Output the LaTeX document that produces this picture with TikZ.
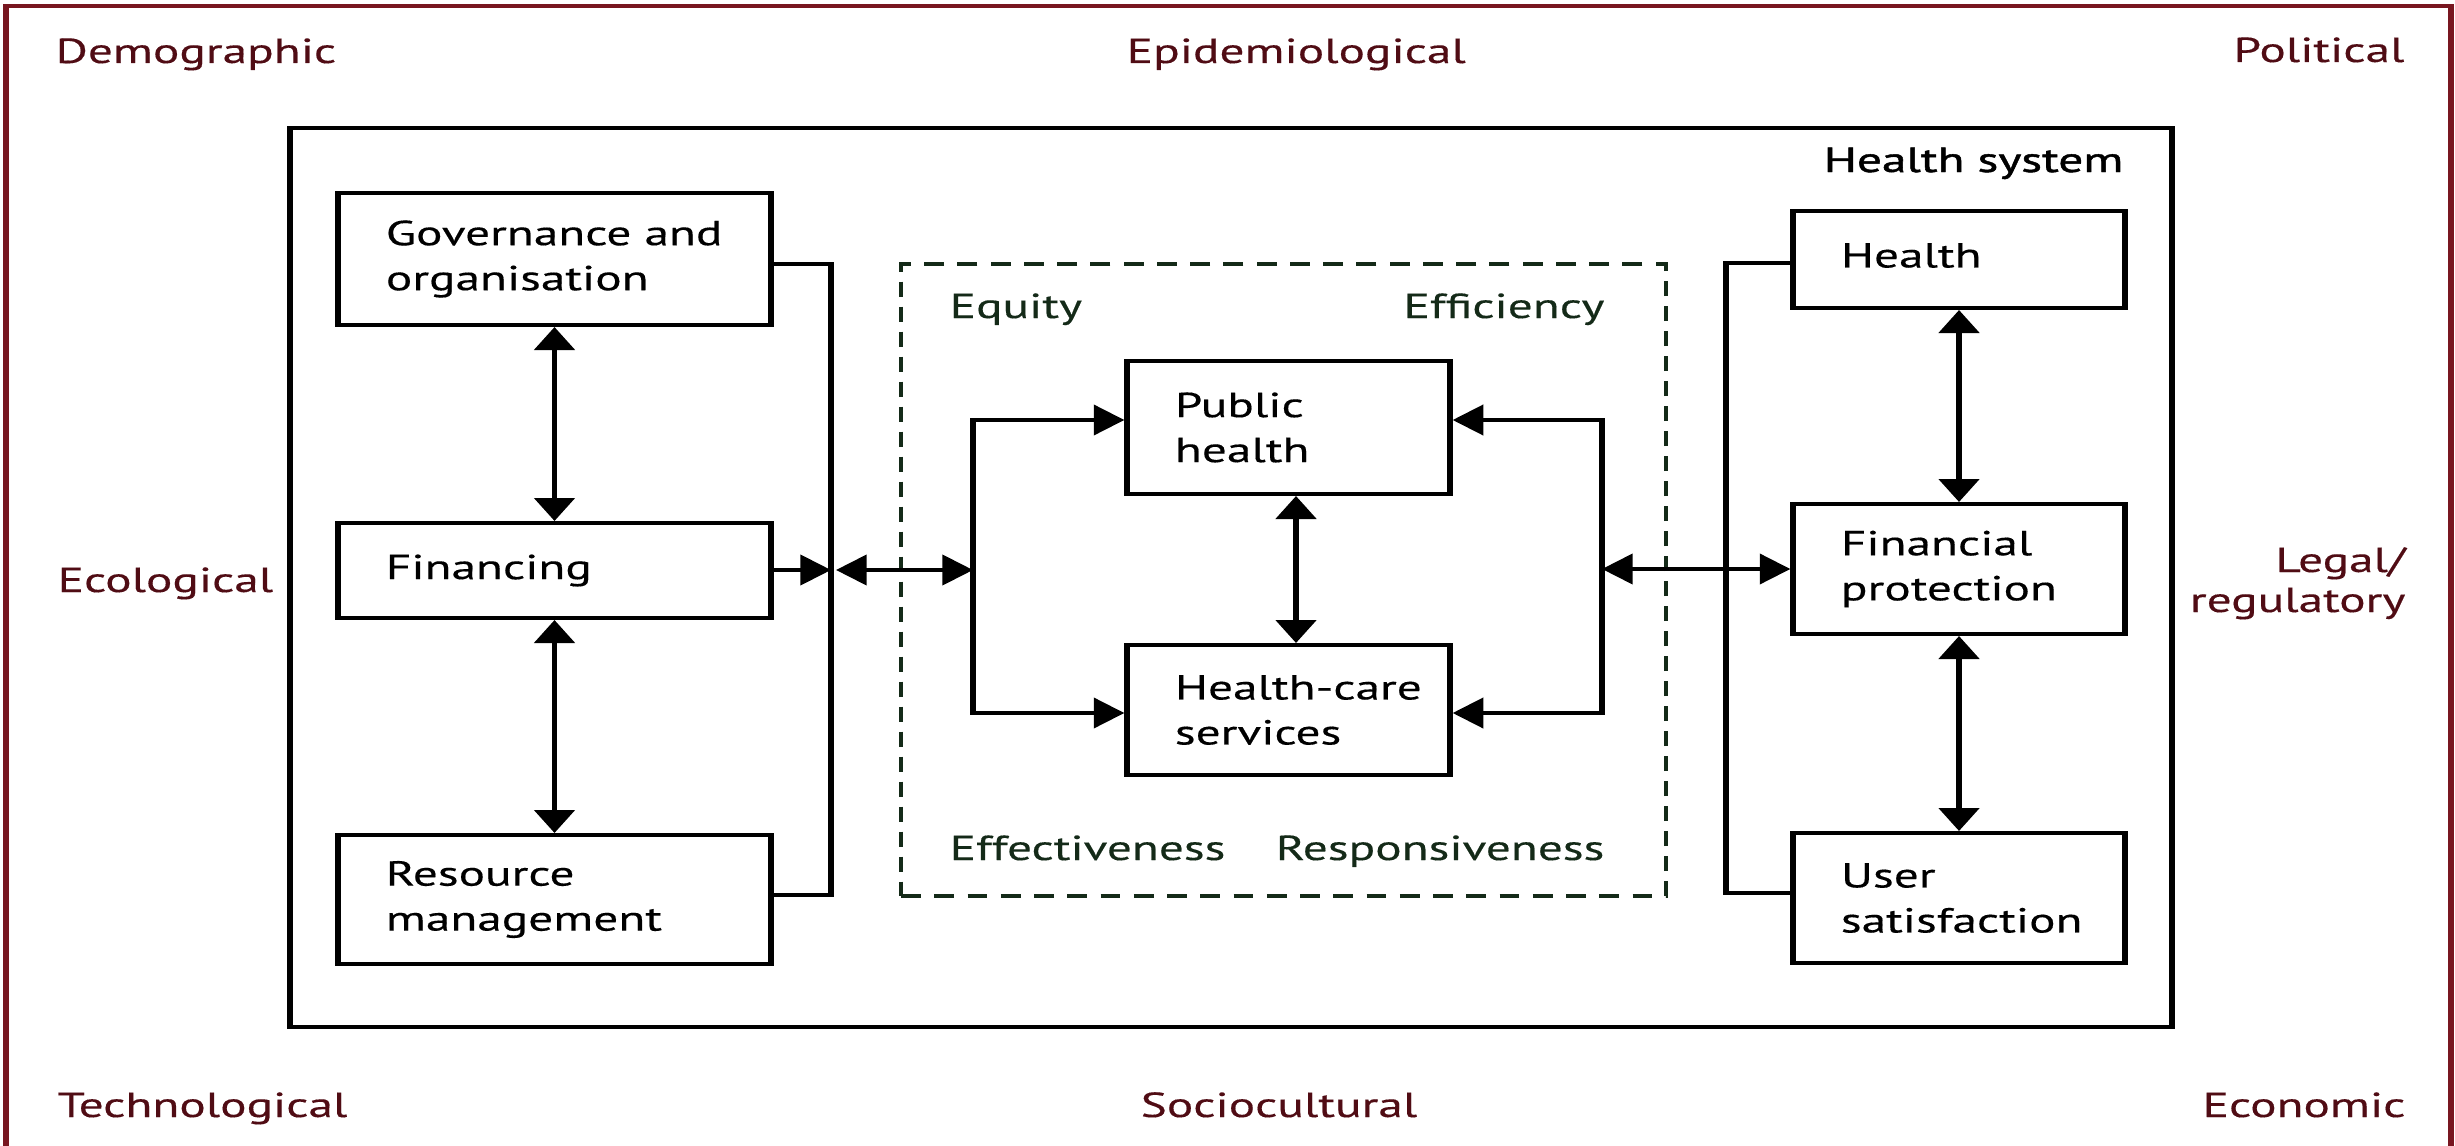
\documentclass[tikz,border=0pt]{standalone}
\usepackage{fontspec}
\setmainfont{PT Sans}[FakeStretch=1.065, FakeBold=0.3]
\newfontfamily\hsfont{PT Sans}[FakeStretch=1.065, FakeBold=1.2]
\usetikzlibrary{arrows.meta}
\definecolor{framecol}{RGB}{120,22,32}
\definecolor{envcol}{RGB}{80,12,20}
\definecolor{dashcol}{RGB}{20,42,24}
\begin{document}
\begin{tikzpicture}[x=0.25pt,y=-0.25pt]
\useasboundingbox (0,0) rectangle (2455,1146);
\fill[white] (0,0) rectangle (2455,1146);
\begin{scope}[x=0.18797pt, y=-0.25pt, transform canvas={xscale=1.33},
  line width=1pt, line join=miter,
  >={Triangle[length=5.75pt,width=7.5pt]},
  every node/.style={inner sep=0pt, font=\fontsize{8.7}{11.25}\selectfont},
  sysbox/.style={draw, rectangle, line width=1pt},
  boxtext/.style={align=left, anchor=west},
  envlabel/.style={text=envcol},
  dimlabel/.style={text=dashcol}]

% outer frame
\draw[framecol, line width=1.1pt] (6,1170) -- (6,6) -- (2451,6) -- (2451,1170);

% environment labels
\node[envlabel, anchor=base west] (demo) at (53,63) {Demographic};
\node[envlabel, anchor=base west] (epi) at (1124,63) {Epidemiological};
\node[envlabel, anchor=base east] (pol) at (2407,62) {Political};
\node[envlabel, anchor=base west] (eco) at (55,592) {Ecological};
\node[envlabel, anchor=base east, align=right, font=\fontsize{8.7}{10}\selectfont] (legal) at (2408,612) {Legal/\\regulatory};
\node[envlabel, anchor=base west] (tech) at (55,1117) {Technological};
\node[envlabel, anchor=base west] (soc) at (1138,1117) {Sociocultural};
\node[envlabel, anchor=base east] (econ) at (2408,1117) {Economic};

% health system box
\node[sysbox, minimum width=353.76pt, minimum height=224.75pt] (hs) at (1231,577.5) {};
\node[anchor=base east, font=\hsfont\fontsize{8.7}{11.25}\selectfont] (hslabel) at (2126,172) {Health system};

% dashed box
\node[draw=dashcol, dash pattern=on 3.75pt off 2.5pt, line width=0.9pt, minimum width=143.8pt, minimum height=158pt] (perf) at (1283.5,580) {};
\node[dimlabel, anchor=base west] (equity) at (947,318) {Equity};
\node[dimlabel, anchor=base east] (effic) at (1607,318) {Efficiency};
\node[dimlabel, anchor=base west] (effect) at (947,860) {Effectiveness};
\node[dimlabel, anchor=base east] (resp) at (1607,860) {Responsiveness};

% left boxes
\node[sysbox, minimum width=81.39pt, minimum height=33pt] (gov) at (554.5,259) {};
\node[sysbox, minimum width=81.39pt, minimum height=23.75pt] (fin) at (554.5,570.5) {};
\node[sysbox, minimum width=81.39pt, minimum height=32.25pt] (res) at (554.5,899.5) {};
\node[boxtext] (govt) at ([xshift=9pt]gov.west) {Governance and\\organisation};
\node[boxtext] (fint) at ([xshift=9pt]fin.west) {Financing};
\node[boxtext] (rest) at ([xshift=9pt]res.west) {Resource\\management};

% centre boxes
\node[sysbox, minimum width=60.71pt, minimum height=33.25pt] (ph) at (1288.5,427.5) {};
\node[sysbox, minimum width=60.71pt, minimum height=32.5pt] (hc) at (1288.5,710) {};
\node[boxtext] (pht) at ([xshift=9pt]ph.west) {Public\\health};
\node[boxtext] (hct) at ([xshift=9pt]hc.west) {Health-care\\services};

% right boxes
\node[sysbox, minimum width=62.41pt, minimum height=24.25pt] (health) at (1959,259.5) {};
\node[sysbox, minimum width=62.41pt, minimum height=32.5pt] (fp) at (1959,569) {};
\node[sysbox, minimum width=62.41pt, minimum height=32.5pt] (us) at (1959,898) {};
\node[boxtext, yshift=1pt] (healtht) at ([xshift=9pt]health.west) {Health};
\node[boxtext] (fpt) at ([xshift=9pt]fp.west) {Financial\\protection};
\node[boxtext] (ust) at ([xshift=9pt]us.west) {User\\satisfaction};

% helper coordinates
\coordinate (lbt) at (831,264);
\coordinate (lbb) at (831,895);
\coordinate (lm) at (831,570);
\coordinate (lm2) at (836,570);
\coordinate (im) at (973,570);
\coordinate (it) at (973,420);
\coordinate (ib) at (973,713);
\coordinate (rt) at (1602,420);
\coordinate (rb) at (1602,713);
\coordinate (rm) at (1602,569);
\coordinate (pv) at (1296,0);
\coordinate (rbt) at (1726,263);
\coordinate (rbb) at (1726,893);

% left connectors
\draw[<->] (gov.south) -- (fin.north);
\draw[<->] (fin.south) -- (res.north);
\draw (gov.east |- lbt) -- (lbt) -- (lbb) -- (res.east |- lbb);
\draw[->] (fin.east |- lm) -- (lm);
\draw[<->] (lm2) -- (im);

% centre connectors
\draw[<->] (ph.west |- it) -- (it) -- (ib) -- (hc.west |- ib);
\draw[<->] (ph.east |- rt) -- (rt) -- (rb) -- (hc.east |- rb);
\draw[<->] (ph.south -| pv) -- (hc.north -| pv);

% right connectors
\draw[<->] (rm) -- (fp.west);
\draw (health.west |- rbt) -- (rbt) -- (rbb) -- (us.west |- rbb);
\draw[<->] (health.south) -- (fp.north);
\draw[<->] (fp.south) -- (us.north);
\end{scope}
\end{tikzpicture}
\end{document}
